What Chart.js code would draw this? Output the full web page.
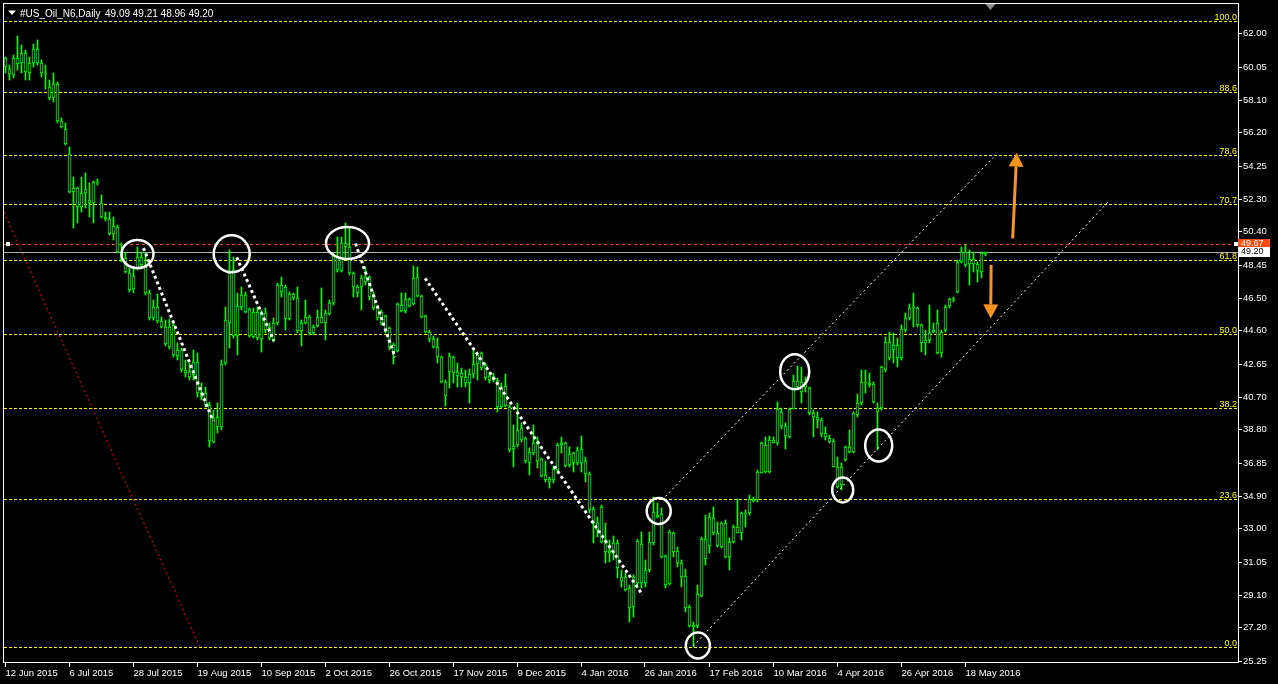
<!DOCTYPE html>
<html><head><meta charset="utf-8">
<script src="https://cdn.jsdelivr.net/npm/chart.js@4.4.1/dist/chart.umd.min.js"></script>
<style>html,body{margin:0;padding:0;background:#000;overflow:hidden}canvas{display:block}</style>
</head><body><canvas id="c" width="1278" height="684"></canvas>
<script>
// ---------- DATA ----------
const symbolTitle = '#US_Oil_N6,Daily';
const opens = [60.55,59.62,59.56,60.21,60.84,60.84,59.67,60.26,61.08,60.26,59.67,58.21,59.04,59.04,56.86,56.39,54.93,52.94,52.94,51.83,52.88,52.24,52.06,53.29,52.06,51.24,51.12,50.71,50.65,49.19,48.84,47.96,47.02,48.25,48.90,48.31,46.79,45.32,45.97,45.15,44.80,43.62,44.91,43.10,43.45,42.28,42.16,41.98,42.74,40.93,40.93,40.23,38.06,39.52,38.94,42.68,45.03,48.13,44.27,45.97,46.67,45.85,44.21,45.68,44.09,45.62,44.80,44.03,45.03,47.25,47.14,45.27,46.73,46.49,44.56,45.03,45.38,44.44,44.85,45.03,45.03,45.56,46.20,48.96,48.07,49.71,49.48,47.96,47.14,47.14,47.43,47.73,46.67,45.97,45.68,45.44,44.74,43.33,43.39,46.08,45.73,46.03,46.14,47.73,46.61,45.44,44.50,44.09,43.62,43.04,41.57,42.16,43.04,42.16,41.87,41.87,41.51,42.04,42.63,43.27,42.57,41.92,41.87,41.69,40.11,41.34,40.11,37.65,37.88,38.88,38.29,36.83,37.41,38.06,37.06,36.12,35.71,35.83,36.42,37.88,38.00,36.71,37.41,36.83,37.65,36.94,36.18,34.13,33.31,34.25,32.32,31.67,31.56,32.14,30.15,30.15,29.50,28.39,29.80,32.08,29.80,30.56,32.14,33.78,33.84,31.38,29.74,32.73,31.67,30.97,30.21,28.39,27.22,27.28,29.04,32.38,31.97,33.61,32.73,31.91,33.31,31.32,32.20,32.73,32.73,33.90,33.90,34.72,34.66,36.24,37.88,36.30,38.00,38.00,39.82,38.41,38.35,39.99,41.63,40.99,41.57,41.22,39.76,39.52,39.35,38.58,38.29,38.12,36.59,35.54,37.00,37.47,37.47,39.64,40.34,41.57,41.51,41.45,39.82,40.05,42.28,43.92,43.45,43.74,42.98,44.62,45.32,45.91,45.91,44.91,43.86,44.03,44.62,45.03,43.27,44.62,46.03,46.38,46.84,48.60,49.19,48.49,48.78,48.49,48.01,49.09];
const highs = [60.61,60.15,60.73,61.84,61.32,61.02,60.61,61.38,61.61,60.44,60.15,59.27,59.67,59.15,57.04,56.74,55.34,53.58,53.00,53.58,53.81,53.23,53.35,53.47,52.53,51.53,51.53,51.24,50.77,49.71,49.19,48.25,48.25,49.48,49.19,49.13,46.96,46.38,46.73,45.38,45.21,45.27,45.03,43.86,43.57,42.86,42.68,43.45,43.27,41.51,41.28,40.40,39.93,40.34,42.86,45.97,49.31,48.90,46.79,47.14,46.84,45.91,45.91,45.97,45.79,45.91,45.03,45.32,47.37,47.73,47.25,46.84,46.79,47.14,45.21,46.38,45.50,44.91,45.79,47.08,45.79,46.38,49.13,50.07,50.07,50.88,50.59,48.01,47.25,47.84,48.31,47.78,46.84,46.08,45.79,45.50,44.80,43.86,46.20,46.79,46.79,46.49,48.37,48.31,46.67,45.50,44.62,44.27,44.15,43.10,41.69,43.27,43.10,42.68,42.39,42.28,42.33,43.45,43.33,43.33,42.68,42.16,42.10,41.81,41.51,42.04,40.23,39.05,40.34,39.17,38.35,37.71,39.05,38.35,37.12,36.94,36.01,36.65,38.00,38.35,38.06,37.77,37.47,37.77,38.41,37.18,36.30,34.25,33.66,34.37,33.31,32.32,32.55,32.32,30.56,30.39,29.68,30.27,32.38,32.79,31.15,32.79,34.84,34.48,34.19,31.44,32.90,32.79,31.91,31.15,30.62,28.51,27.51,29.68,32.49,33.78,33.90,34.25,33.37,33.37,33.49,32.43,33.19,34.72,33.96,34.07,34.95,34.84,36.42,38.06,38.35,38.41,38.35,40.40,40.05,39.17,40.05,41.98,42.51,42.45,41.87,41.28,39.93,39.82,39.46,38.94,38.47,38.23,37.18,36.83,37.82,38.76,39.82,40.87,42.28,42.28,42.10,41.57,40.34,42.51,44.21,44.50,44.44,44.15,44.91,45.62,46.14,46.79,45.97,44.97,44.62,46.08,45.03,45.79,44.62,46.08,46.49,46.55,48.72,49.48,49.60,49.31,49.19,48.60,49.19,49.21];
const lows = [59.67,59.27,59.38,59.85,59.67,59.27,59.27,60.03,60.15,59.44,58.74,58.09,57.97,56.74,56.45,55.46,52.64,50.59,50.88,51.53,51.77,51.24,50.88,53.11,51.18,51.00,50.19,49.89,49.13,48.60,47.96,46.84,46.79,48.13,48.31,46.67,45.21,45.21,45.03,44.74,43.68,43.50,43.04,42.86,42.16,41.87,41.69,41.69,40.69,40.52,40.11,37.77,38.00,38.58,38.76,42.57,43.57,44.15,43.16,45.79,45.62,44.21,44.15,44.03,43.33,44.44,44.03,43.92,44.91,46.55,44.62,45.21,46.38,44.44,43.68,44.97,44.33,44.33,44.80,45.03,44.03,45.50,46.08,48.01,48.01,48.84,47.84,46.55,46.55,45.79,47.25,46.38,45.79,45.21,44.91,44.44,43.45,42.63,43.33,45.68,45.62,45.97,46.08,46.55,45.32,44.44,43.92,43.57,42.68,41.51,40.16,41.22,41.51,41.28,41.28,41.28,40.34,41.81,41.69,42.28,41.69,41.51,41.57,39.82,40.05,40.11,37.47,36.59,37.77,38.06,36.83,36.12,37.30,36.53,36.01,35.71,35.36,35.66,36.30,37.41,36.59,36.59,36.30,36.71,36.30,35.71,33.90,32.14,32.49,32.14,30.97,31.03,31.15,30.09,29.56,29.33,27.51,27.81,29.50,29.50,29.56,30.44,32.02,33.61,31.26,29.50,29.68,31.32,30.74,29.56,28.10,27.22,26.04,27.16,28.98,30.85,31.56,32.61,31.91,31.85,31.26,30.56,32.14,32.73,32.32,33.08,33.78,34.54,34.54,36.24,36.24,36.24,38.00,37.88,38.82,37.65,38.29,39.99,41.10,40.34,40.99,39.64,38.35,38.88,38.35,38.18,38.00,36.59,35.36,35.25,36.94,37.41,37.41,39.52,40.23,40.93,41.28,40.34,37.59,39.93,42.16,42.86,42.68,42.45,42.86,44.50,45.21,44.80,44.80,43.33,43.16,43.86,44.44,43.21,43.04,44.50,45.91,46.26,46.79,48.54,48.31,47.25,48.01,47.43,47.66,48.96];
const closes = [60.03,59.91,60.55,60.55,60.26,59.73,60.26,61.08,60.26,59.67,59.62,58.86,58.21,56.86,56.51,55.52,52.70,52.70,51.83,52.64,52.64,52.06,53.29,53.23,51.24,51.12,50.25,50.25,49.19,48.72,48.01,46.96,47.78,48.90,48.43,46.79,45.32,45.97,45.15,44.80,43.80,44.80,43.16,43.45,42.28,42.10,41.87,42.74,40.93,40.69,40.23,38.12,39.46,38.94,42.63,45.21,47.96,44.27,46.03,46.67,45.68,44.27,45.68,44.15,45.62,44.62,44.15,45.03,47.25,46.84,45.27,46.73,46.49,44.56,45.03,45.38,44.44,44.80,45.38,45.38,45.62,46.20,48.96,48.13,49.71,49.48,47.96,47.14,46.79,47.66,47.73,46.55,45.91,45.32,45.03,44.50,43.62,43.74,46.14,45.73,46.44,46.44,47.66,46.61,45.38,44.50,44.09,43.62,43.04,41.57,40.75,43.10,42.10,41.92,42.10,41.51,42.04,42.63,43.16,42.39,41.81,41.69,41.69,40.11,41.28,40.17,37.59,37.82,38.76,38.18,36.94,37.47,38.00,36.94,36.06,35.83,35.89,36.47,37.88,38.00,36.65,37.36,36.83,37.59,36.83,36.18,34.07,33.31,32.90,32.20,31.61,31.56,32.14,30.68,29.91,29.39,28.33,30.15,32.26,29.80,30.56,32.20,33.96,33.66,31.32,29.68,32.79,31.61,30.97,30.15,28.33,27.28,27.34,29.15,32.38,31.20,33.66,32.73,31.97,33.31,31.32,32.20,33.08,33.08,33.90,33.84,34.72,34.60,36.30,38.00,36.30,38.18,38.18,39.99,39.00,39.00,39.99,41.63,41.28,41.57,41.28,39.76,39.52,39.35,38.53,38.35,38.06,36.59,35.42,36.59,37.77,37.77,39.76,40.34,41.57,41.51,41.40,40.40,40.05,42.45,43.92,42.98,43.74,42.98,44.68,45.32,45.91,45.97,44.91,43.86,44.03,44.44,44.50,43.27,44.50,45.97,46.44,46.44,48.60,49.19,48.43,48.78,48.49,48.07,49.13,49.20];

const dateTickBars = [0,16,32,48,64,80,96,112,128,144,160,176,192,208,224,240];
const dateTickLabels = ['12 Jun 2015','6 Jul 2015','28 Jul 2015','19 Aug 2015','10 Sep 2015','2 Oct 2015','26 Oct 2015','17 Nov 2015','9 Dec 2015','4 Jan 2016','26 Jan 2016','17 Feb 2016','10 Mar 2016','4 Apr 2016','26 Apr 2016','18 May 2016'];
const priceTicks = [62.00,60.05,58.10,56.20,54.25,52.30,50.40,48.45,46.50,44.60,42.65,40.70,38.80,36.85,34.90,33.00,31.05,29.10,27.20,25.25];

const fibLow = 26.05, fibHigh = 62.74;
const fibRatios = [0, 0.236, 0.382, 0.5, 0.618, 0.707, 0.786, 0.886, 1.0];
const fibBaseLine = [[-22, 62.74], [48.6, 26.05]];
const askPrice = 49.67, bidPrice = 49.20;

// dotted trend lines [bar, price] -> [bar, price]
const dottedLines = [
  [[34.5, 49.42], [51.9, 39.29]],
  [[57.8, 48.88], [67.1, 43.99]],
  [[87.5, 49.69], [97.4, 43.02]],
  [[104.9, 47.65], [159.3, 29.10]]
];
// thin dashed channel lines
const channelLines = [
  [[164.1, 34.66], [246.95, 54.73]],
  [[171.95, 26.11], [275.7, 52.14]]
];
// circles: [bar, price, rx, ry]
const circles = [
  [33.0, 49.07, 16, 14],
  [56.55, 49.08, 18, 18.5],
  [85.5, 49.72, 21.5, 16],
  [163.3, 34.02, 12, 13],
  [173.1, 26.14, 12, 13],
  [197.3, 42.18, 14.5, 17.5],
  [209.3, 35.25, 10.5, 12.5],
  [218.3, 37.85, 13.5, 16]
];
// arrows: from [bar, price] to tip [bar, price]
const arrows = [
  [[251.8, 49.99], [252.8, 55.01]],
  [[246.4, 48.43], [246.3, 45.30]]
];

// ---------- CHART ----------
const bodies = opens.map((o, i) => ({x: i, y: [Math.min(o, closes[i]), Math.max(o, closes[i])]}));
const wicks = highs.map((h, i) => ({x: i, y: [lows[i], h]}));

const FONT = 'Liberation Sans, Arial, sans-serif';
const LIME = '#00ff00';

function px(chart, b, p) { return [chart.scales.x.getPixelForValue(b), chart.scales.y.getPixelForValue(p)]; }

const overlay = {
  id: 'overlay',
  beforeDraw(chart) {
    const c = chart.ctx;
    c.save(); c.fillStyle = '#000'; c.fillRect(0, 0, chart.width, chart.height); c.restore();
  },
  beforeDatasetsDraw(chart) {
    // snap candle edges to whole pixels for crisp rendering
    chart.data.datasets.forEach((d, i) => {
      chart.getDatasetMeta(i).data.forEach(el => {
        const top = Math.round(Math.min(el.y, el.base));
        let bot = Math.round(Math.max(el.y, el.base));
        if (bot - top < 1) bot = top + 1;
        el.y = top; el.base = bot;
      });
    });
    const c = chart.ctx, a = chart.chartArea, ys = chart.scales.y;
    c.save();
    c.beginPath(); c.rect(a.left, a.top, a.right - a.left, a.bottom - a.top); c.clip();
    // bid line
    let y = Math.round(ys.getPixelForValue(bidPrice)) + 0.5;
    c.strokeStyle = '#b0b0b0'; c.lineWidth = 1; c.setLineDash([]);
    c.beginPath(); c.moveTo(a.left, y); c.lineTo(a.right, y); c.stroke();
    // ask line
    y = Math.round(ys.getPixelForValue(askPrice)) + 0.5;
    c.strokeStyle = '#ff4a10'; c.setLineDash([3, 3]);
    c.beginPath(); c.moveTo(a.left, y); c.lineTo(a.right, y); c.stroke();
    // fib levels
    c.font = '9px ' + FONT; c.textAlign = 'right'; c.textBaseline = 'alphabetic';
    fibRatios.forEach(r => {
      const p = fibLow + r * (fibHigh - fibLow);
      const yy = Math.round(ys.getPixelForValue(p)) + 0.5;
      c.strokeStyle = '#ffff00'; c.setLineDash([3, 2]);
      c.beginPath(); c.moveTo(a.left, yy); c.lineTo(a.right, yy); c.stroke();
      c.fillStyle = '#ffff00';
      c.fillText((r * 100).toFixed(1), a.right - 1, yy - 2);
    });
    // red fib base line
    const [p1, p2] = fibBaseLine;
    const A = px(chart, p1[0], p1[1]), B = px(chart, p2[0], p2[1]);
    c.strokeStyle = '#ff0000'; c.setLineDash([2, 3]); c.lineWidth = 1;
    c.beginPath(); c.moveTo(A[0], A[1]); c.lineTo(B[0], B[1]); c.stroke();
    c.restore();
  },
  afterDatasetsDraw(chart) {
    const c = chart.ctx, a = chart.chartArea;
    c.save();
    c.beginPath(); c.rect(a.left, a.top, a.right - a.left, a.bottom - a.top); c.clip();
    // channel lines
    c.strokeStyle = '#ffffff'; c.lineWidth = 1; c.setLineDash([2, 3]);
    channelLines.forEach(([s, e]) => {
      const A = px(chart, s[0], s[1]), B = px(chart, e[0], e[1]);
      c.beginPath(); c.moveTo(A[0], A[1]); c.lineTo(B[0], B[1]); c.stroke();
    });
    // dotted trend lines
    c.lineWidth = 3; c.setLineDash([3, 3]); c.lineCap = 'butt';
    dottedLines.forEach(([s, e]) => {
      const A = px(chart, s[0], s[1]), B = px(chart, e[0], e[1]);
      c.beginPath(); c.moveTo(A[0], A[1]); c.lineTo(B[0], B[1]); c.stroke();
    });
    // circles
    c.setLineDash([]); c.lineWidth = 2.5; c.strokeStyle = '#ffffff';
    circles.forEach(([b, p, rx, ry]) => {
      const P = px(chart, b, p);
      c.beginPath(); c.ellipse(P[0], P[1], rx, ry, 0, 0, Math.PI * 2); c.stroke();
    });
    // arrows
    arrows.forEach(([s, e]) => {
      const A = px(chart, s[0], s[1]), B = px(chart, e[0], e[1]);
      const ang = Math.atan2(B[1] - A[1], B[0] - A[0]);
      const hl = 14, hw = 7.5;
      const bx = B[0] - hl * Math.cos(ang), by = B[1] - hl * Math.sin(ang);
      c.strokeStyle = '#f7941d'; c.fillStyle = '#f7941d'; c.lineWidth = 3;
      c.beginPath(); c.moveTo(A[0], A[1]); c.lineTo(bx, by); c.stroke();
      c.beginPath();
      c.moveTo(B[0], B[1]);
      c.lineTo(bx + hw * Math.sin(ang), by - hw * Math.cos(ang));
      c.lineTo(bx - hw * Math.sin(ang), by + hw * Math.cos(ang));
      c.closePath(); c.fill();
    });
    c.restore();
  },
  afterDraw(chart) {
    const c = chart.ctx, a = chart.chartArea, xs = chart.scales.x, ys = chart.scales.y;
    c.save();
    // frame
    c.strokeStyle = '#ffffff'; c.lineWidth = 1; c.setLineDash([]);
    c.strokeRect(a.left - 0.5, a.top - 0.5, a.right - a.left + 1, a.bottom - a.top + 1);
    // price ticks
    c.font = '9.5px ' + FONT; c.fillStyle = '#ffffff'; c.textAlign = 'left'; c.textBaseline = 'middle';
    priceTicks.forEach(v => {
      const y = Math.round(ys.getPixelForValue(v)) + 0.5;
      c.beginPath(); c.moveTo(a.right + 1, y); c.lineTo(a.right + 4, y); c.stroke();
      c.fillText(v.toFixed(2), a.right + 5, y);
    });
    // date ticks
    dateTickBars.forEach((b, k) => {
      const x = Math.round(xs.getPixelForValue(b)) - 0.5;
      c.beginPath(); c.moveTo(x, a.bottom + 1); c.lineTo(x, a.bottom + 5); c.stroke();
      c.fillText(dateTickLabels[k], x, a.bottom + 11);
    });
    // ask / bid labels
    c.font = '9px ' + FONT;
    const yAsk = ys.getPixelForValue(askPrice), yBid = ys.getPixelForValue(bidPrice);
    c.fillStyle = '#ff4a10'; c.fillRect(a.right, Math.round(yAsk) - 5, 32, 10);
    c.fillStyle = '#ffffff'; c.fillText(askPrice.toFixed(2), a.right + 3, Math.round(yAsk));
    c.fillStyle = '#ffffff'; c.fillRect(a.right, Math.round(yBid) - 5, 32, 10);
    c.fillStyle = '#000000'; c.fillText(bidPrice.toFixed(2), a.right + 3, Math.round(yBid));
    // small anchors on ask line
    c.fillStyle = '#ffffff';
    c.fillRect(a.left + 2, Math.round(yAsk) - 2, 4, 4);
    c.fillRect(a.right - 4, Math.round(yAsk) - 2, 4, 4);
    // shift marker
    const sx = xs.getPixelForValue(opens.length) + 1;
    c.fillStyle = '#8c8c8c';
    c.beginPath(); c.moveTo(sx - 5, a.top); c.lineTo(sx + 5, a.top); c.lineTo(sx, a.top + 6); c.closePath(); c.fill();
    // title
    c.fillStyle = '#ffffff';
    c.beginPath(); c.moveTo(8, 10.5); c.lineTo(16, 10.5); c.lineTo(12, 15); c.closePath(); c.fill();
    c.font = '10px ' + FONT; c.textBaseline = 'alphabetic';
    c.fillText(symbolTitle, 20, 17);
    const n = opens.length - 1;
    c.fillText([opens[n], highs[n], lows[n], closes[n]].map(v => v.toFixed(2)).join(' '), 105, 17);
    c.restore();
  }
};

new Chart(document.getElementById('c').getContext('2d'), {
  type: 'bar',
  data: {datasets: [
    {data: bodies, backgroundColor: '#000000', borderColor: LIME, borderWidth: 1, borderSkipped: false,
     barThickness: 3, minBarLength: 1, order: 0, grouped: false},
    {data: wicks, backgroundColor: LIME, borderWidth: 0, barThickness: 1, minBarLength: 1, order: 1, grouped: false}
  ]},
  options: {
    responsive: false, devicePixelRatio: 1, animation: false, events: [],
    layout: {padding: {left: 4, top: 4, right: 40, bottom: 22}},
    plugins: {legend: {display: false}, tooltip: {enabled: false}},
    scales: {
      x: {type: 'linear', min: -0.375, max: 308.125, offset: false, display: false},
      y: {type: 'linear', min: 25.174, max: 63.716, display: false}
    }
  },
  plugins: [overlay]
});
</script>
</body></html>
